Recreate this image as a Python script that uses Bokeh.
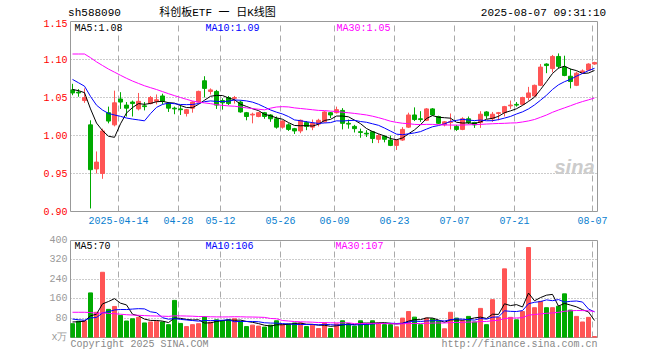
import numpy as np
import pandas as pd
from bokeh.plotting import figure
from bokeh.layouts import column
from bokeh.models import (Range1d, FixedTicker, NumeralTickFormatter, Label, ColumnDataSource,
                          LinearAxis)
from bokeh.embed import file_html
from bokeh.resources import INLINE

# ---------------- data ----------------
holidays = ["2025-04-04", "2025-05-01", "2025-05-02", "2025-05-05", "2025-06-02"]
dates = [d.strftime("%Y-%m-%d") for d in pd.bdate_range("2025-04-01", "2025-08-07")
         if d.strftime("%Y-%m-%d") not in holidays]

opens = [1.060, 1.057, 1.046, 1.014, 0.956, 0.950, 1.030, 1.014, 1.048, 1.040,
         1.044, 1.035, 1.039, 1.042, 1.045, 1.052, 1.042, 1.036, 1.035, 1.029,
         1.036, 1.044, 1.072, 1.058, 1.058, 1.046, 1.050, 1.049, 1.044, 1.030,
         1.027, 1.025, 1.030, 1.027, 1.022, 1.011, 1.014, 1.009, 1.006, 1.017,
         1.011, 1.015, 1.018, 1.030, 1.030, 1.033, 1.016, 1.012, 1.005, 1.003,
         1.005, 0.995, 0.999, 0.994, 0.987, 0.994, 1.011, 1.027, 1.022, 1.020,
         1.035, 1.025, 1.014, 1.017, 1.012, 1.008, 1.022, 1.017, 1.017, 1.031,
         1.022, 1.029, 1.030, 1.039, 1.041, 1.041, 1.050, 1.052, 1.066, 1.094,
         1.088, 1.104, 1.090, 1.078, 1.066, 1.083, 1.086, 1.094]
highs = [1.068, 1.061, 1.062, 1.020, 0.979, 1.009, 1.038, 1.059, 1.057, 1.044,
         1.046, 1.056, 1.044, 1.052, 1.054, 1.055, 1.044, 1.038, 1.040, 1.035,
         1.045, 1.059, 1.078, 1.062, 1.060, 1.049, 1.052, 1.052, 1.046, 1.031,
         1.030, 1.031, 1.031, 1.028, 1.025, 1.020, 1.016, 1.010, 1.021, 1.019,
         1.021, 1.022, 1.032, 1.031, 1.038, 1.036, 1.021, 1.014, 1.009, 1.007,
         1.006, 1.002, 1.000, 1.000, 0.995, 1.011, 1.030, 1.037, 1.032, 1.036,
         1.036, 1.026, 1.019, 1.029, 1.014, 1.024, 1.025, 1.018, 1.032, 1.032,
         1.031, 1.031, 1.039, 1.046, 1.044, 1.051, 1.064, 1.067, 1.094, 1.095,
         1.106, 1.108, 1.105, 1.088, 1.084, 1.087, 1.095, 1.097]
lows = [1.053, 1.051, 1.043, 0.904, 0.950, 0.943, 1.016, 1.012, 1.035, 1.025,
        1.025, 1.033, 1.033, 1.041, 1.041, 1.041, 1.031, 1.028, 1.027, 1.025,
        1.030, 1.043, 1.050, 1.054, 1.035, 1.034, 1.040, 1.042, 1.030, 1.020,
        1.016, 1.024, 1.022, 1.018, 1.009, 1.009, 1.006, 1.002, 1.003, 1.007,
        1.007, 1.012, 1.017, 1.023, 1.029, 1.008, 1.009, 1.004, 0.997, 0.998,
        0.990, 0.990, 0.991, 0.986, 0.981, 0.993, 1.010, 1.019, 1.018, 1.019,
        1.026, 1.015, 1.012, 1.008, 1.006, 1.007, 1.015, 1.010, 1.010, 1.022,
        1.018, 1.020, 1.025, 1.035, 1.038, 1.040, 1.046, 1.051, 1.065, 1.082,
        1.083, 1.088, 1.078, 1.062, 1.065, 1.082, 1.085, 1.093]
closes = [1.056, 1.056, 1.050, 0.955, 0.965, 1.006, 1.019, 1.043, 1.044, 1.036,
          1.042, 1.045, 1.038, 1.050, 1.047, 1.045, 1.036, 1.035, 1.034, 1.034,
          1.044, 1.058, 1.062, 1.060, 1.040, 1.043, 1.042, 1.050, 1.031, 1.025,
          1.028, 1.030, 1.025, 1.022, 1.011, 1.019, 1.008, 1.006, 1.020, 1.012,
          1.016, 1.020, 1.031, 1.027, 1.034, 1.016, 1.015, 1.009, 1.004, 1.002,
          0.996, 1.000, 0.995, 0.987, 0.994, 1.008, 1.027, 1.021, 1.021, 1.035,
          1.027, 1.016, 1.018, 1.018, 1.008, 1.022, 1.017, 1.014, 1.028, 1.026,
          1.028, 1.030, 1.038, 1.040, 1.040, 1.050, 1.056, 1.066, 1.090, 1.092,
          1.104, 1.091, 1.079, 1.071, 1.082, 1.085, 1.094, 1.096]
volumes = [57, 67, 69, 184, 104, 269, 116, 128, 91, 68,
           77, 83, 60, 64, 67, 64, 53, 153, 58, 45,
           53, 57, 85, 63, 73, 69, 73, 77, 67, 45,
           51, 47, 43, 51, 69, 53, 56, 60, 60, 45,
           51, 37, 60, 37, 56, 69, 57, 47, 69, 56,
           69, 60, 53, 53, 44, 80, 107, 84, 53, 80,
           77, 67, 36, 104, 80, 69, 87, 64, 120, 53,
           156, 83, 283, 83, 73, 107, 371, 123, 149, 123,
           123, 129, 180, 113, 87, 64, 83, 4]
# closes / volumes of the 29 sessions before the first shown day (feed the moving averages)
prior_close = [1.056, 1.050, 1.100, 1.130, 1.150, 1.160, 1.165, 1.167, 1.155, 1.150,
               1.140, 1.130, 1.125, 1.120, 1.128, 1.118, 1.112, 1.108, 1.105, 1.110,
               1.100, 1.095, 1.090, 1.080, 1.070, 1.064, 1.063, 1.062, 1.058]
prior_volume = [67, 69, 220, 200, 200, 200, 160, 150, 130, 120,
                110, 100, 95, 90, 85, 80, 75, 70, 65, 74,
                95, 90, 88, 85, 82, 62, 59, 72, 70]

tick_dates = ["2025-04-14", "2025-04-28", "2025-05-12", "2025-05-26", "2025-06-09",
              "2025-06-23", "2025-07-07", "2025-07-21", "2025-08-07"]
tick_labels = ["2025-04-14", "04-28", "05-12", "05-26", "06-09", "06-23", "07-07", "07-21", "08-07"]
price_ticks = [0.90, 0.95, 1.00, 1.05, 1.10, 1.15]
vol_ticks = [0, 80, 160, 240, 320, 400]
price_ma_text = ["MA5:1.08", "MA10:1.09", "MA30:1.05"]
vol_ma_text = ["MA5:70", "MA10:106", "MA30:107"]
ma_colors = ["#000000", "#0000ff", "#ff00ff"]
header_texts = ["sh588090", "科创板ETF 一 日K线图", "2025-08-07 09:31:10"]
footer_texts = ["Copyright 2025 SINA.COM", "http://finance.sina.com.cn"]

# ---------------- derived ----------------
RED, GREEN = "#ff5555", "#00aa00"
n = len(closes)
idx = np.arange(n)
cols = [RED if c >= o else GREEN for o, c in zip(opens, closes)]

def moving(prior, vals, w):
    a = np.array(prior + vals, dtype=float)
    k = len(prior)
    return [a[k + i - w + 1:k + i + 1].mean() for i in range(len(vals))]

src = ColumnDataSource(dict(
    x=idx, o=opens, h=highs, l=lows, c=closes,
    top=np.maximum(opens, closes), bot=np.minimum(opens, closes),
    vol=volumes, col=cols,
    ma5=moving(prior_close, closes, 5), ma10=moving(prior_close, closes, 10),
    ma30=moving(prior_close, closes, 30),
    v5=moving(prior_volume, volumes, 5), v10=moving(prior_volume, volumes, 10),
    v30=moving(prior_volume, volumes, 30),
))

tick_pos = [dates.index(d) - 1 / 3 for d in tick_dates]

MONO = "Liberation Mono"
W = 652
x_range = Range1d(-1 / 3, 87.5)

# pixel helpers for annotation placement (page px -> data)
def xd(px):
    return (px - 72) / 6.0

def yp(py):
    return 1.15 - (py - 21) / 760.0

def yv(py):
    return 400 - (py - 240) * 4.0


def plain_axis(ax, size="10px", font=MONO):
    ax.axis_line_color = None
    ax.major_tick_line_color = None
    ax.minor_tick_line_color = None
    ax.major_tick_out = 0
    ax.major_tick_in = 0
    ax.minor_tick_out = 0
    ax.minor_tick_in = 0
    ax.major_label_text_font = font
    ax.major_label_text_font_size = size


def style(fig):
    fig.outline_line_color = "#999999"
    fig.outline_line_width = 1
    fig.background_fill_color = "white"
    fig.border_fill_color = "white"
    for ax in fig.axis:
        plain_axis(ax)
    fig.xgrid.ticker = FixedTicker(ticks=tick_pos)
    fig.xgrid.grid_line_color = "#aaaaaa"
    fig.xgrid.grid_line_dash = "6 4"
    fig.ygrid.grid_line_color = "#999999"
    fig.ygrid.grid_line_dash = "1 2"


# ---------------- price panel ----------------
p = figure(width=W, height=228, x_range=x_range, y_range=Range1d(0.90, 1.15),
           output_backend="svg", toolbar_location=None, title=None,
           min_border_left=70, min_border_right=55, min_border_top=21, min_border_bottom=17)
style(p)
# the top label sits just inside the frame edge, as in the original
p.yaxis.ticker = FixedTicker(ticks=price_ticks[:-1] + [price_ticks[-1] - 2 / 760])
p.yaxis.formatter = NumeralTickFormatter(format="0.00")
p.yaxis.major_label_text_color = "#ff0000"
p.yaxis.major_label_standoff = 3
p.xaxis.ticker = FixedTicker(ticks=tick_pos)
p.xaxis.major_label_overrides = {t: lab for t, lab in zip(tick_pos, tick_labels)}
p.xaxis.major_label_text_color = "#0a80d0"
p.xaxis.major_label_standoff = 5
p.ygrid.ticker = FixedTicker(ticks=price_ticks)

# header line: code, title and time stamp
head_pos = [xd(94), xd(217), xd(543)]
head_ax = LinearAxis(ticker=FixedTicker(ticks=head_pos),
                     major_label_overrides={t: s for t, s in zip(head_pos, header_texts)})
plain_axis(head_ax, size="11px", font="Liberation Mono, Noto Sans CJK SC")
head_ax.major_label_text_color = "#000000"
head_ax.major_label_standoff = 3
p.add_layout(head_ax, "above")

p.segment(x0="x", y0="l", x1="x", y1="h", color="col", line_width=1, source=src)
p.vbar(x="x", width=4 / 6, top="top", bottom="bot", fill_color="col", line_color="col",
       line_width=1, source=src)
for key, colr in zip(["ma5", "ma10", "ma30"], ma_colors):
    p.line("x", key, color=colr, line_width=1, source=src)

for txt, colr, px in zip(price_ma_text, ma_colors, [74, 205, 336]):
    p.add_layout(Label(x=xd(px), y=yp(28), text=txt, text_color=colr, text_font=MONO,
                       text_font_size="10px", text_baseline="middle", text_align="left"))
p.add_layout(Label(x=xd(594), y=yp(166), text="sina", text_color="#cccccc",
                   text_font="Liberation Sans", text_font_size="20px", text_font_style="bold italic",
                   text_baseline="middle", text_align="right"))

# ---------------- volume panel ----------------
pv = figure(width=W, height=124, x_range=x_range, y_range=Range1d(0, 400),
            output_backend="svg", toolbar_location=None, title=None,
            min_border_left=70, min_border_right=55, min_border_top=12, min_border_bottom=12)
style(pv)
foot_pos = [xd(70 + 3 * len(footer_texts[0])), xd(597 - 3 * len(footer_texts[1]))]
pv.xaxis.ticker = FixedTicker(ticks=foot_pos)
pv.xaxis.major_label_overrides = {t: s for t, s in zip(foot_pos, footer_texts)}
pv.xaxis.major_label_text_color = "#888888"
pv.xaxis.major_label_standoff = 1
pv.yaxis.ticker = FixedTicker(ticks=vol_ticks)
pv.yaxis.major_label_overrides = {0: "x万"}
pv.yaxis.major_label_text_color = "#999999"
pv.yaxis.major_label_standoff = 3
pv.ygrid.ticker = FixedTicker(ticks=vol_ticks)

pv.vbar(x="x", width=4 / 6, top="vol", bottom=0, fill_color="col", line_color="col",
        line_width=1, source=src)
for key, colr in zip(["v5", "v10", "v30"], ma_colors):
    pv.line("x", key, color=colr, line_width=1, source=src)

for txt, colr, px in zip(vol_ma_text, ma_colors, [74, 205, 335]):
    pv.add_layout(Label(x=xd(px), y=yv(246), text=txt, text_color=colr, text_font=MONO,
                        text_font_size="10px", text_baseline="middle", text_align="left"))

layout = column(p, pv, spacing=0)
open("out.html", "w").write(file_html(layout, INLINE))
